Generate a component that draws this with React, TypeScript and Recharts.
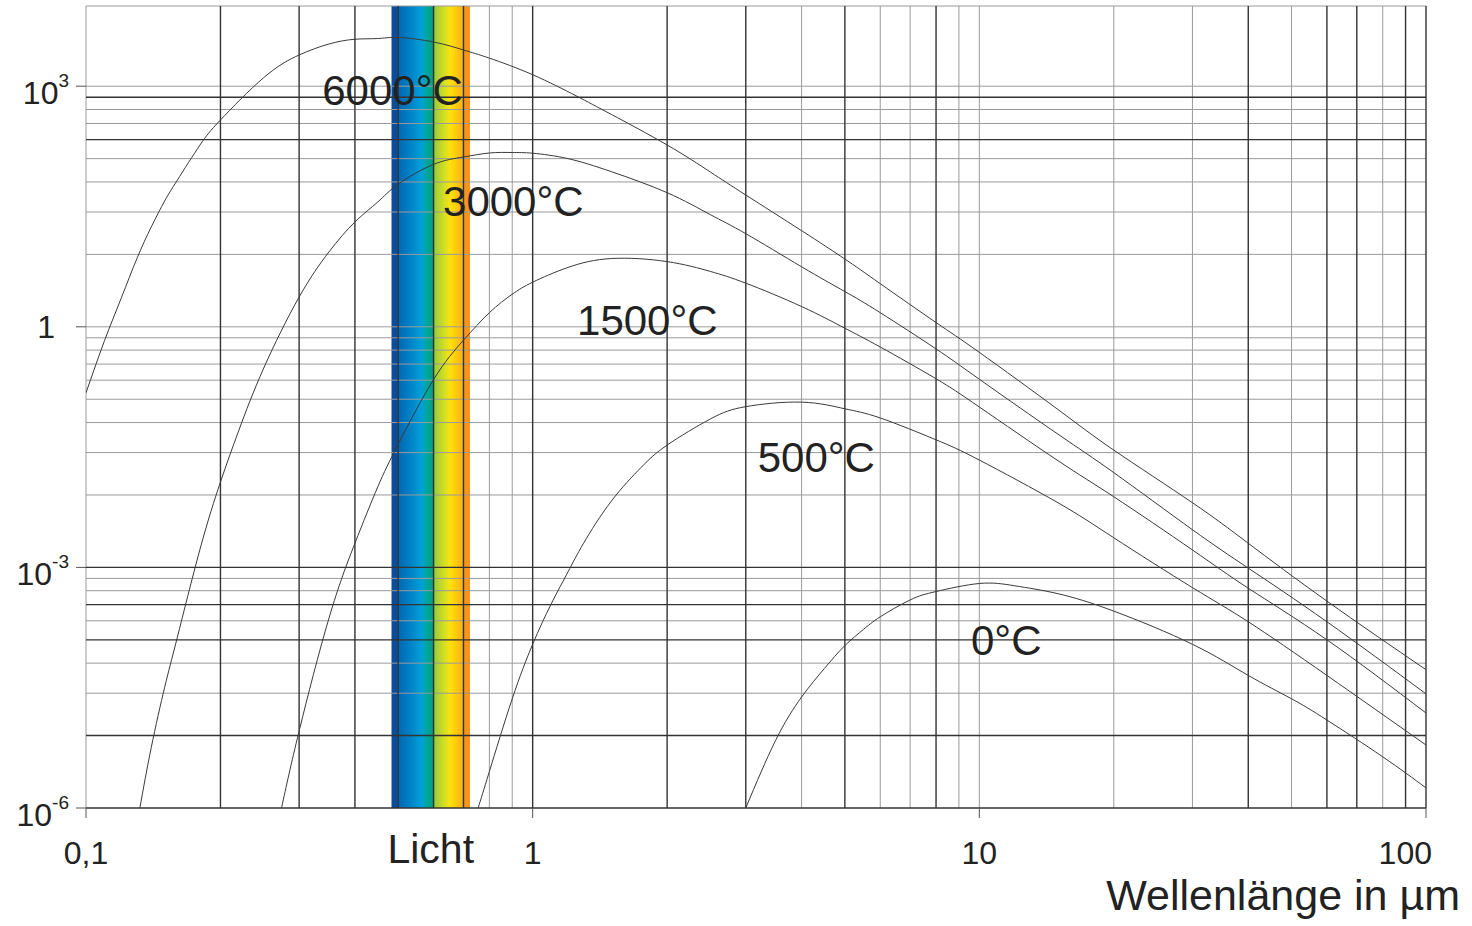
import React from 'react';
import {
  LineChart,
  Line,
  XAxis,
  YAxis,
  ReferenceLine,
  ReferenceArea,
  ReferenceDot,
  Label,
} from 'recharts';

const FONT = '"Liberation Sans", Arial, Helvetica, sans-serif';

// wavelength in µm / radiance
const lambda6000 = [0.1, 0.11, 0.12, 0.13, 0.14, 0.15, 0.16, 0.18, 0.2, 0.25, 0.3, 0.35, 0.4, 0.45, 0.5, 0.6, 0.7, 0.8, 1, 1.25, 1.5, 2, 2.5, 3, 4, 5, 6, 8, 10, 15, 20, 30, 40, 60, 100];
const value6000 = [0.15, 0.67, 2.3, 7.1, 17.6, 37, 67, 185, 379, 1280, 2450, 3360, 3850, 3930, 4050, 3560, 2830, 2240, 1390, 760, 445, 185, 85, 44, 15.8, 7.0, 3.45, 1.13, 0.48, 0.093, 0.029, 0.0064, 0.002, 3.8e-4, 5.3e-5];

const lambda3000 = [0.132, 0.14, 0.15, 0.16, 0.18, 0.2, 0.22, 0.25, 0.3, 0.35, 0.4, 0.45, 0.5, 0.6, 0.7, 0.8, 0.9, 1, 1.2, 1.5, 2, 2.5, 3, 4, 5, 6, 8, 10, 15, 20, 30, 40, 60, 100];
const value3000 = [1e-6, 5.7e-6, 3.2e-5, 1.32e-4, 1.69e-3, 0.0116, 0.0516, 0.306, 2.35, 8.6, 20.3, 36, 60, 106, 131, 147, 149, 146, 125, 86, 47, 25, 14.5, 5.6, 2.75, 1.5, 0.53, 0.222, 0.0458, 0.0152, 0.00295, 9.8e-4, 2.1e-4, 2.65e-5];

const lambda1500 = [0.274, 0.3, 0.35, 0.4, 0.45, 0.5, 0.6, 0.7, 0.8, 0.9, 1, 1.2, 1.5, 2, 2.5, 3, 4, 5, 6, 8, 10, 15, 20, 30, 40, 60, 100];
const value1500 = [1e-6, 9.1e-6, 2.34e-4, 2.0e-3, 0.0101, 0.0344, 0.22, 0.68, 1.5, 2.55, 3.6, 5.5, 7.1, 6.5, 4.9, 3.5, 1.79, 0.96, 0.56, 0.225, 0.1, 0.0214, 0.0076, 1.65e-3, 5.5e-4, 1.25e-4, 1.53e-5];

const lambda500 = [0.755, 0.8, 0.9, 1, 1.1, 1.2, 1.3, 1.5, 1.75, 2, 2.5, 3, 4, 5, 6, 8, 10, 15, 20, 30, 40, 60, 100];
const value500 = [1e-6, 2.85e-6, 2.3e-5, 1.1e-4, 3.5e-4, 8.8e-4, 2.0e-3, 6.7e-3, 0.0177, 0.0335, 0.071, 0.101, 0.115, 0.095, 0.073, 0.039, 0.0218, 6.4e-3, 2.34e-3, 5.6e-4, 2.1e-4, 4.5e-5, 6.1e-6];

const lambda0 = [3.0, 3.5, 4, 4.5, 5, 5.5, 6, 7, 8, 10, 12, 15, 20, 30, 40, 50, 60, 80, 100];
const value0 = [1e-6, 7.0e-6, 2.42e-5, 5.5e-5, 1.06e-4, 1.68e-4, 2.42e-4, 3.93e-4, 5.0e-4, 6.3e-4, 5.9e-4, 4.7e-4, 2.85e-4, 1.1e-4, 4.5e-5, 2.3e-5, 1.25e-5, 4.35e-6, 1.78e-6];

// curve names and where their labels sit (data coords, left edge / middle)
const tempLabels = ['6000°C', '3000°C', '1500°C', '500°C', '0°C'];
const tempLabelLambda = [0.338, 0.63, 1.257, 3.19, 9.58];
const tempLabelValue = [898, 37.1, 1.216, 0.0238, 1.245e-4];

const xTicks = [0.1, 1, 10, 100];
const xTickLabels = ['0,1', '1', '10', '100'];
const yTicks = [1e-6, 1e-3, 1, 1e3];
const yTickBase = ['10', '10', '1', '10'];
const yTickExp = ['-6', '-3', '', '3'];

// visible light band (µm)
const lichtBand = [0.483, 0.724];

// printed log grid; some lines came out heavier in the original
const gridXDark = [0.2, 0.3, 0.4, 0.5, 0.6, 0.7, 1, 2, 3, 5, 8, 40, 60, 70, 90, 100];
const gridXLight = [0.1, 0.8, 0.9, 4, 6, 7, 9, 10, 20, 30, 50, 80];
const gridYDark = [1e-6, 8e-6, 1.25e-4, 3.43e-4, 1e-3, 216, 729];
const gridYLight = [2.7e-5, 6.4e-5, 2.16e-4, 5.12e-4, 7.29e-4, 8e-3, 0.027, 0.064, 0.125, 0.216, 0.343, 0.512, 0.729, 1, 8, 27, 64, 125, 343, 512, 1000, 1e4];

const toPoints = (xs: number[], ys: number[]) => xs.map((x, i) => ({ x, y: ys[i] }));

const series = [
  toPoints(lambda6000, value6000),
  toPoints(lambda3000, value3000),
  toPoints(lambda1500, value1500),
  toPoints(lambda500, value500),
  toPoints(lambda0, value0),
];

const nearestIndex = (list: number[], v: number) => {
  let best = 0;
  list.forEach((t, i) => {
    if (Math.abs(Math.log10(t) - Math.log10(v)) < Math.abs(Math.log10(list[best]) - Math.log10(v))) best = i;
  });
  return best;
};

function XTick(props: any) {
  const { x, y, payload } = props;
  const i = nearestIndex(xTicks, payload.value);
  const last = i === xTicks.length - 1;
  return (
    <text
      x={last ? x + 6 : x}
      y={y + 46}
      textAnchor={last ? 'end' : 'middle'}
      fontSize={32}
      fill="#222"
      fontFamily={FONT}
    >
      {xTickLabels[i]}
    </text>
  );
}

function YTick(props: any) {
  const { x, y, payload } = props;
  const i = nearestIndex(yTicks, payload.value);
  if (!yTickExp[i]) {
    return (
      <text x={x - 21} y={y + 11} textAnchor="end" fontSize={32} fill="#222" fontFamily={FONT}>
        {yTickBase[i]}
      </text>
    );
  }
  return (
    <text x={x - 7} y={y + 18} textAnchor="end" fontSize={32} fill="#222" fontFamily={FONT}>
      <tspan>{yTickBase[i]}</tspan>
      <tspan dy={-17} fontSize={19}>{yTickExp[i]}</tspan>
    </text>
  );
}

const axisTitle = (props: any) => {
  const vb = props.viewBox;
  return (
    <text x={vb.x + vb.width + 34} y={vb.y + 102} textAnchor="end" fontSize={43} fill="#222" fontFamily={FONT}>
      Wellenlänge in µm
    </text>
  );
};

const lichtLabel = (props: any) => {
  const vb = props.viewBox;
  return (
    <text x={vb.x + vb.width / 2} y={vb.y + vb.height + 55} textAnchor="middle" fontSize={41} fill="#222" fontFamily={FONT}>
      Licht
    </text>
  );
};

const curveLabel = (text: string) => (props: any) => {
  const vb = props.viewBox;
  return (
    <text x={vb.x} y={vb.y + 15} textAnchor="start" fontSize={42} fill="#222" fontFamily={FONT}>
      {text}
    </text>
  );
};

export default function App() {
  return (
    <div style={{ position: 'absolute', left: 0, top: 0, width: 1472, height: 926, background: '#fff' }}>
      <LineChart width={1472} height={926} margin={{ top: 6, right: 46, bottom: 0, left: 0 }}>
        <defs>
          <linearGradient id="lichtGrad" x1="0" y1="0" x2="1" y2="0">
            <stop offset="0%" stopColor="#0b4c9c" />
            <stop offset="7%" stopColor="#0b4c9c" />
            <stop offset="9%" stopColor="#0068b5" />
            <stop offset="25%" stopColor="#0084c8" />
            <stop offset="38%" stopColor="#00a0da" />
            <stop offset="45%" stopColor="#00a6a0" />
            <stop offset="53%" stopColor="#00a07a" />
            <stop offset="55%" stopColor="#9ccb3b" />
            <stop offset="68%" stopColor="#d7df23" />
            <stop offset="75%" stopColor="#ffe10a" />
            <stop offset="85%" stopColor="#ffc20e" />
            <stop offset="91%" stopColor="#fcaf17" />
            <stop offset="93%" stopColor="#f7941d" />
            <stop offset="100%" stopColor="#f7941d" />
          </linearGradient>
        </defs>

        <XAxis
          type="number"
          dataKey="x"
          scale="log"
          domain={[0.1, 100]}
          allowDataOverflow
          ticks={xTicks}
          interval={0}
          tick={<XTick />}
          tickSize={10}
          tickMargin={0}
          tickLine={{ stroke: '#555' }}
          axisLine={false}
          height={118}
        >
          <Label content={axisTitle} />
        </XAxis>
        <YAxis
          type="number"
          dataKey="y"
          scale="log"
          domain={[1e-6, 1e4]}
          allowDataOverflow
          ticks={yTicks}
          interval={0}
          tick={<YTick />}
          tickSize={10}
          tickMargin={0}
          tickLine={{ stroke: '#555' }}
          axisLine={false}
          width={86}
        />

        <ReferenceArea
          x1={lichtBand[0]}
          x2={lichtBand[1]}
          fill="url(#lichtGrad)"
          fillOpacity={1}
          stroke="none"
          ifOverflow="visible"
          label={<Label content={lichtLabel} />}
        />

        {gridYLight.map((v) => (
          <ReferenceLine key={'yl' + v} y={v} stroke="#9a9a9a" strokeWidth={1} ifOverflow="visible" />
        ))}
        {gridXLight.map((v) => (
          <ReferenceLine key={'xl' + v} x={v} stroke="#9a9a9a" strokeWidth={1} ifOverflow="visible" />
        ))}
        {gridYDark.map((v) => (
          <ReferenceLine key={'yd' + v} y={v} stroke="#333" strokeWidth={1.4} ifOverflow="visible" />
        ))}
        {gridXDark.map((v) => (
          <ReferenceLine key={'xd' + v} x={v} stroke="#333" strokeWidth={1.4} ifOverflow="visible" />
        ))}

        {series.map((pts, i) => (
          <Line
            key={tempLabels[i]}
            data={pts}
            dataKey="y"
            name={tempLabels[i]}
            type="natural"
            stroke="#3a3a3a"
            strokeWidth={1}
            dot={false}
            activeDot={false}
            isAnimationActive={false}
          />
        ))}

        {tempLabels.map((t, i) => (
          <ReferenceDot
            key={'lbl' + t}
            x={tempLabelLambda[i]}
            y={tempLabelValue[i]}
            r={0}
            fill="none"
            stroke="none"
            ifOverflow="visible"
            label={<Label content={curveLabel(t)} />}
          />
        ))}
      </LineChart>
    </div>
  );
}
